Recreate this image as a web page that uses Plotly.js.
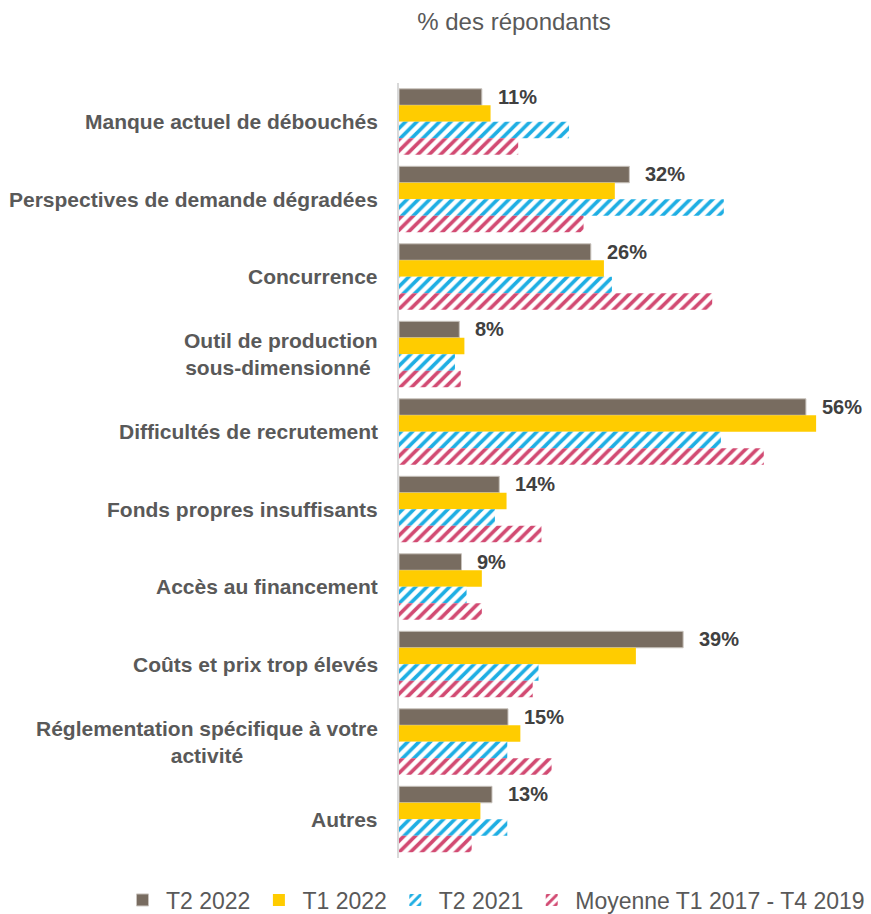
<!DOCTYPE html>
<html>
<head>
<meta charset="utf-8">
<script src="https://cdn.plot.ly/plotly-3.0.1.min.js"></script>
<style>html,body{margin:0;padding:0;background:#fff;}#chart{width:871px;height:914px;}</style>
</head>
<body>
<div id="chart"></div>
<script>
const categories = [
  "Manque actuel de débouchés",
  "Perspectives de demande dégradées",
  "Concurrence",
  "Outil de production<br>sous-dimensionné ",
  "Difficultés de recrutement",
  "Fonds propres insuffisants",
  "Accès au financement",
  "Coûts et prix trop élevés",
  "Réglementation spécifique à votre<br>activité",
  "Autres"
];
const seriesNames = ["T2 2022", "T1 2022", "T2 2021", "Moyenne T1 2017 - T4 2019"];
const t2_2022 = [11.4, 31.7, 26.4, 8.3, 56.0, 13.8, 8.6, 39.1, 15.0, 12.8];
const t1_2022 = [12.6, 29.7, 28.2, 9.0, 57.4, 14.8, 11.4, 32.6, 16.7, 11.2];
const t2_2021 = [23.4, 44.7, 29.3, 7.7, 44.3, 13.2, 9.3, 19.2, 14.9, 14.9];
const moyenne = [16.4, 25.4, 43.1, 8.5, 50.2, 19.6, 11.4, 18.4, 21.0, 10.0];

const FONT = "'Liberation Sans', Arial, sans-serif";
const TXT = "#595959";

const traces = [
  {
    type: "bar", orientation: "h", name: seriesNames[0],
    y: categories, x: t2_2022,
    marker: {color: "#786C60", line: {color: "#C9C3BD", width: 1}},
    hoverinfo: "skip"
  },
  {
    type: "bar", orientation: "h", name: seriesNames[1],
    y: categories, x: t1_2022,
    marker: {color: "#FFCC00", line: {width: 0}},
    hoverinfo: "skip"
  },
  {
    type: "bar", orientation: "h", name: seriesNames[2],
    y: categories, x: t2_2021,
    marker: {color: "#1EAEE3", line: {width: 0},
      pattern: {shape: "/", fgcolor: "#1EAEE3", bgcolor: "#FFFFFF", size: 8, solidity: 0.45, fillmode: "replace"}},
    hoverinfo: "skip"
  },
  {
    type: "bar", orientation: "h", name: seriesNames[3],
    y: categories, x: moyenne,
    marker: {color: "#D24A72", line: {width: 0},
      pattern: {shape: "/", fgcolor: "#D24A72", bgcolor: "#FFFFFF", size: 8, solidity: 0.45, fillmode: "replace"}},
    hoverinfo: "skip"
  }
];

const annotations = [];
categories.forEach((c, i) => {
  annotations.push({
    xref: "paper", yref: "y", x: 0, y: c, xanchor: "right", yanchor: "middle",
    xshift: -19, align: "center", showarrow: false, text: "<b>" + c + "</b>",
    font: {family: FONT, size: 21, color: TXT}
  });
  annotations.push({
    xref: "x", yref: "y", x: t2_2022[i], y: c, xanchor: "left", yanchor: "middle",
    xshift: 14, yshift: 25, showarrow: false, text: "<b>" + Math.round(t2_2022[i]) + "%</b>",
    font: {family: FONT, size: 20, color: "#404040"}
  });
});

const layout = {
  width: 871, height: 914,
  margin: {l: 399, r: 36, t: 83, b: 56, autoexpand: false},
  paper_bgcolor: "#FFFFFF", plot_bgcolor: "#FFFFFF",
  font: {family: FONT, color: TXT},
  title: {
    text: "% des répondants",
    x: 514 / 871, xref: "container", xanchor: "center",
    y: 1 - 22 / 914, yref: "container", yanchor: "middle",
    font: {family: FONT, size: 24, color: TXT}
  },
  barmode: "group", bargap: 0.15, bargroupgap: 0,
  xaxis: {range: [0, 60], showgrid: false, zeroline: false, showticklabels: false, showline: false, fixedrange: true},
  yaxis: {autorange: "reversed", type: "category", showticklabels: false, showgrid: false, zeroline: false,
    showline: true, linecolor: "#D9D9D9", linewidth: 2, ticks: "", fixedrange: true},
  showlegend: true,
  legend: {
    orientation: "h", xref: "paper", yref: "paper",
    x: (119 - 399) / 436, xanchor: "left", y: -42 / 775, yanchor: "middle",
    itemwidth: 37,
    font: {family: FONT, size: 23, color: TXT}, bgcolor: "rgba(0,0,0,0)",
    traceorder: "normal"
  },
  annotations: annotations
};

Plotly.newPlot("chart", traces, layout, {displayModeBar: false, staticPlot: true});
</script>
</body>
</html>
